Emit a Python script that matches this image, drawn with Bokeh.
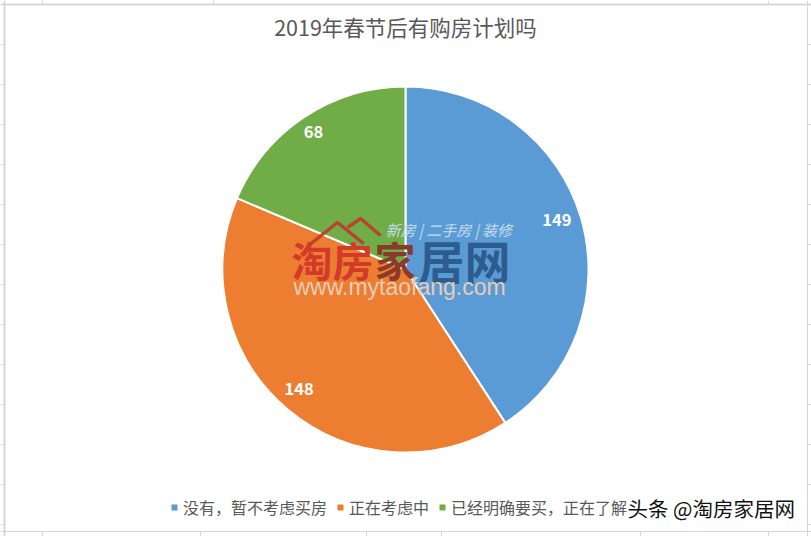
from bokeh.plotting import figure
from bokeh.embed import file_html
from bokeh.resources import INLINE
from bokeh.models import Range1d, ColumnDataSource, Legend, LegendItem
from bokeh.core.properties import value
import math

title = "2019年春节后有购房计划吗"
categories = ["没有，暂不考虑买房", "正在考虑中", "已经明确要买，正在了解"]
counts = [149, 148, 68]
colors = ["#5B9BD5", "#ED7D31", "#70AD47"]

W, H = 811, 536
FONT = "Noto Sans CJK SC"
cx, cy, r = 405, H - 269, 183

total = sum(counts)
starts, ends, lx, ly = [], [], [], []
a = math.pi / 2
for v in counts:
    b = a - 2 * math.pi * v / total
    starts.append(b)
    ends.append(a)
    mid = (a + b) / 2
    lx.append(cx - 3 + r * 0.88 * math.cos(mid))
    ly.append(cy + 4 + r * 0.88 * math.sin(mid))
    a = b

p = figure(width=W, height=H, x_range=Range1d(0, W), y_range=Range1d(0, H),
           output_backend="svg", toolbar_location=None, min_border=0,
           margin=(0, 0, 0, 0), background_fill_color="white",
           border_fill_color="white", outline_line_color=None)
p.xaxis.visible = False
p.yaxis.visible = False
p.grid.visible = False

# sheet grid around the chart
rows = [44, 84, 124, 164, 204, 244, 284, 324, 364, 404, 444, 484, 524]
p.segment([4, 0], [H, H - 4], [4, W], [0, H - 4], line_color="#CFCFCF", line_width=1.5)
p.segment([0] * 13, [H - y for y in rows], [4] * 13, [H - y for y in rows], line_color="#D9D9D9", line_width=1)
p.segment([807] * 13, [H - y for y in rows], [W] * 13, [H - y for y in rows], line_color="#D9D9D9", line_width=1)
p.segment([0, 807], [H - 531, 0], [W, 807], [H - 531, H], line_color="#D5D5D5", line_width=1)
p.segment([4], [H - 531], [4], [H - 4], line_color="#D5D5D5", line_width=1.5)
p.segment([42, 200, 366, 441, 640, 768], [H - 531] * 6, [42, 200, 366, 441, 640, 768], [0] * 6, line_color="#D5D5D5", line_width=1)
p.segment([42, 213, 768], [H - 4] * 3, [42, 213, 768], [H] * 3, line_color="#D5D5D5", line_width=1)

src = ColumnDataSource(dict(start=starts, end=ends, color=colors, cat=categories))
wedges = p.wedge(x=cx, y=cy, radius=r, start_angle="start", end_angle="end", direction="anticlock",
                 fill_color="color", line_color="white", line_width=2, source=src)

p.text(lx, ly, text=[str(v) for v in counts], text_color="white", text_font=value(FONT),
       text_font_style="bold", text_font_size="16.5px", text_align="center", text_baseline="middle")

p.text([405], [H - 26], text=[title], text_color="#595959", text_font=value(FONT),
       text_font_size="21.5px", text_align="center", text_baseline="middle")

# watermark in the middle of the pie
p.line([308, 337, 363], [H - 245, H - 222, H - 243], line_color="#C0392B", line_width=3.5, line_alpha=0.9)
p.line([347, 360, 380], [H - 227, H - 218, H - 235], line_color="#C0392B", line_width=3.5, line_alpha=0.9)
p.text([291], [H - 258], text=["淘房"], text_color="#D23A2C", text_font=value(FONT),
       text_font_style="bold", text_font_size="41px", text_align="left", text_baseline="middle")
p.text([374], [H - 258], text=["家"], text_color="#8A3A2A", text_font=value(FONT),
       text_font_style="bold", text_font_size="41px", text_align="left", text_baseline="middle")
p.text([418], [H - 258], text=["居网"], text_color="#2D5C8E", text_font=value(FONT),
       text_font_style="bold", text_font_size="46px", text_align="left", text_baseline="middle")
p.text([385], [H - 229], text=["新房 | 二手房 | 装修"], text_color="#C9DCEF", text_font=value(FONT),
       text_font_style="italic", text_font_size="15px", text_align="left", text_baseline="middle")
p.text([293], [H - 286], text=["www.mytaofang.com"], text_color="#E6CDB4", text_font=value("Liberation Sans"),
       text_font_size="23px", text_align="left", text_baseline="middle")

legend = Legend(items=[LegendItem(label=value(c), renderers=[wedges], index=i) for i, c in enumerate(categories)],
                orientation="horizontal", location=(169, H - 519), border_line_color=None,
                background_fill_alpha=0, label_text_font=FONT, label_text_font_size="16px",
                label_text_color="#595959", glyph_width=10, glyph_height=10, spacing=8,
                label_standoff=4, padding=4, margin=0)
p.add_layout(legend, "center")

# source credit stamped over the corner
p.text([627], [H - 507], text=["头条 @淘房家居网"], text_color="#111111", text_font=value(FONT),
       text_font_size="20.5px", text_align="left", text_baseline="middle")

open("out.html", "w").write(file_html(p, INLINE))
